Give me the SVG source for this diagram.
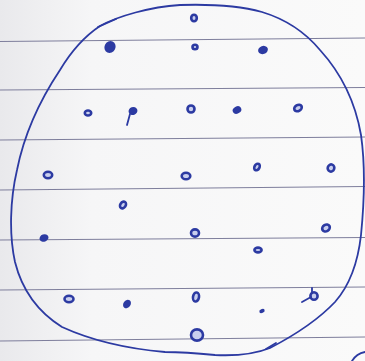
<svg xmlns="http://www.w3.org/2000/svg" width="365" height="361" viewBox="0 0 365 361">
<defs>
<linearGradient id="shade" x1="0" y1="0" x2="1" y2="0">
<stop offset="0" stop-color="#e9e9ec"/>
<stop offset="0.25" stop-color="#f6f6f7"/>
<stop offset="1" stop-color="#fafafa"/>
</linearGradient>
</defs>
<style>
.rule{stroke:#7e7e9c;stroke-width:1.1;fill:none}
.ink{stroke:#2c3aa2;fill:none;stroke-width:1.8;stroke-linecap:round;stroke-linejoin:round}
.dot{fill:#2c3aa2}
.od{fill:#c9cfee;stroke:#2c3aa2;stroke-width:2.6}
</style>
<rect width="365" height="361" fill="url(#shade)"/>
<g id="paper-lines">
<path class="rule" d="M0 41.5 L365 38"/>
<path class="rule" d="M0 90 L365 87.5"/>
<path class="rule" d="M0 140 L365 137"/>
<path class="rule" d="M0 190 L365 186.5"/>
<path class="rule" d="M0 240 L365 237.5"/>
<path class="rule" d="M0 290 L365 287"/>
<path class="rule" d="M0 341 L365 337"/>
</g>
<g id="outline">
<path class="ink" d="M100 26 C118 16 150 7 180 5 C210 4 240 6 262 12 C285 19 305 32 320 50 C340 72 355 100 361 135 C366 170 364 205 361 235 C358 262 350 285 335 302 C318 320 295 335 270 348 C255 354 235 356 215 355 C195 353 180 352 165 352 C130 349 95 342 62 327 C38 312 22 290 15 262 C9 235 10 200 17 170 C24 135 40 100 60 70 C72 50 85 36 100 26 Z"/>
<path class="ink" d="M98 27 L116 19" stroke-width="3.5"/>
<path class="ink" d="M266 349 L276 343" stroke-width="2.8"/>
<path class="ink" d="M352 361 C355 356 360 353 365 352"/>
</g>
<g id="dots">
<ellipse class="od" cx="194" cy="18" rx="2.8" ry="3.3"/>
<ellipse class="dot" cx="110" cy="47" rx="5.5" ry="6.2" transform="rotate(25 110 47)"/>
<ellipse class="od" cx="195" cy="47" rx="2.5" ry="2.3"/>
<ellipse class="dot" cx="263" cy="50" rx="5" ry="4" transform="rotate(-20 263 50)"/>
<ellipse class="od" cx="88" cy="113" rx="3.2" ry="2.5"/>
<ellipse class="dot" cx="133" cy="111" rx="4.5" ry="4" transform="rotate(-20 133 111)"/>
<path class="ink" d="M130 114 L127 125" stroke-width="1.3"/>
<ellipse class="od" cx="191" cy="109" rx="3.5" ry="3.5"/>
<ellipse class="dot" cx="237" cy="110" rx="4.5" ry="3.6" transform="rotate(-30 237 110)"/>
<ellipse class="od" cx="298" cy="108" rx="4" ry="3" transform="rotate(-30 298 108)"/>
<ellipse class="od" cx="48" cy="175" rx="4.2" ry="3.2"/>
<ellipse class="od" cx="186" cy="176" rx="4.3" ry="3.3"/>
<ellipse class="od" cx="257" cy="167" rx="2.5" ry="3.5" transform="rotate(30 257 167)"/>
<ellipse class="od" cx="331" cy="168" rx="3.3" ry="3.6" transform="rotate(20 331 168)"/>
<ellipse class="od" cx="123" cy="205" rx="2.7" ry="3.6" transform="rotate(35 123 205)"/>
<ellipse class="dot" cx="44" cy="238" rx="4.6" ry="3.6" transform="rotate(-20 44 238)"/>
<ellipse class="od" cx="195" cy="233" rx="4" ry="3.6"/>
<ellipse class="od" cx="326" cy="228" rx="4" ry="3.2" transform="rotate(-30 326 228)"/>
<ellipse class="od" cx="258" cy="250" rx="3.6" ry="2.4"/>
<ellipse class="od" cx="69" cy="299" rx="4.5" ry="3.2"/>
<ellipse class="dot" cx="127" cy="304" rx="3.6" ry="4.6" transform="rotate(35 127 304)"/>
<ellipse class="od" cx="196" cy="297" rx="3" ry="4.6" transform="rotate(10 196 297)"/>
<ellipse class="dot" cx="262" cy="311" rx="2.8" ry="2" transform="rotate(-25 262 311)"/>
<ellipse class="od" cx="314" cy="296" rx="3.6" ry="3.8"/>
<path class="ink" d="M302 302 L311 297 M312 293 L312 288" stroke-width="1.3"/>
<ellipse class="od" cx="197" cy="335" rx="6" ry="5.6" stroke-width="2.6" fill="#f4f4f6"/>
</g>
</svg>
